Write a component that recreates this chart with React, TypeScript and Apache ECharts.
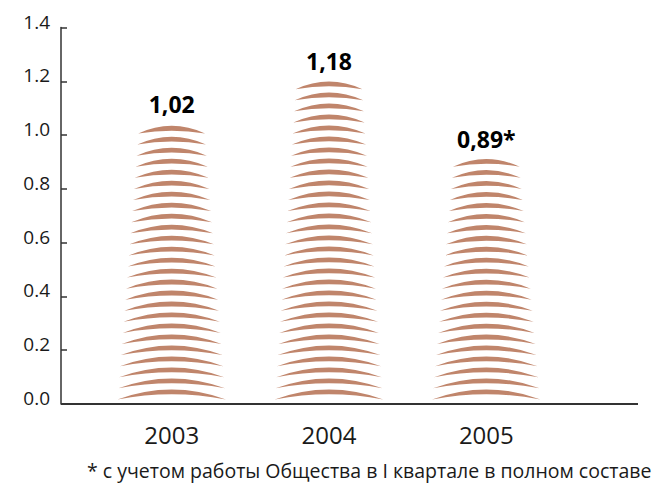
import React, { useEffect, useRef } from "react";
import * as echarts from "echarts";

const categories = ["2003", "2004", "2005"];
const values = [1.02, 1.18, 0.89];
const valueLabels = ["1,02", "1,18", "0,89*"];
const yTicks = [0, 0.2, 0.4, 0.6, 0.8, 1.0, 1.2, 1.4];
const footnote = "* с учетом работы Общества в I квартале в полном составе";

const ARC_COLOR = "#c0856b";
const ARC_STEP = 0.0412;
const ARC_BASE = 0.017;
const FONT = "'Open Sans', 'DejaVu Sans', sans-serif";

export default function App() {
  const ref = useRef<HTMLDivElement>(null);
  useEffect(() => {
    if (!ref.current) return;
    const chart = echarts.init(ref.current, null, { renderer: "svg" });
    const option: any = {
      animation: false,
      backgroundColor: "#ffffff",
      grid: { left: 93, right: 91, top: 27.5, bottom: 86 },
      xAxis: {
        type: "category",
        data: categories,
        boundaryGap: true,
        axisLine: { show: false },
        axisTick: { show: false },
        axisLabel: { color: "#1a1a1a", fontSize: 24, fontFamily: FONT, margin: 18 },
      },
      yAxis: {
        type: "value",
        min: yTicks[0],
        max: yTicks[yTicks.length - 1],
        interval: 0.2,
        offset: 32,
        axisLine: { show: true, lineStyle: { color: "#333", width: 1.5 } },
        axisTick: { show: true, inside: true, length: 6, lineStyle: { color: "#333", width: 1.5 } },
        splitLine: { show: false },
        axisLabel: {
          color: "#1a1a1a",
          fontSize: 19,
          fontFamily: FONT,
          margin: 11,
          verticalAlign: "bottom",
          lineHeight: 12,
          formatter: (v: number) => v.toFixed(1),
        },
      },
      graphic: [
        {
          type: "line",
          shape: { x1: 61, y1: 404, x2: 638, y2: 404 },
          style: { stroke: "#333", lineWidth: 2 },
          z: 10,
        },
        {
          type: "text",
          x: 87,
          y: 470,
          style: {
            text: footnote,
            fill: "#1a1a1a",
            fontSize: 19.5,
            fontFamily: FONT,
            verticalAlign: "middle",
            align: "left",
          },
        },
      ],
      series: [
        {
          type: "custom",
          data: values.map((v, i) => [i, v]),
          renderItem: (params: any, api: any) => {
            const idx = api.value(0);
            const val = api.value(1);
            const base = api.coord([idx, 0]);
            const top = api.coord([idx, val]);
            const cx = base[0];
            const band = api.size([1, 0])[0];
            const stepPx = api.size([0, ARC_STEP])[1];
            const offPx = api.size([0, ARC_BASE])[1];
            const n = Math.floor((val - ARC_BASE) / ARC_STEP) + 1;
            const bottomW = band * 0.69;
            const topW = band * 0.425;
            const children: any[] = [];
            for (let k = 0; k < n; k++) {
              const e = base[1] - offPx - k * stepPx;
              const t = n > 1 ? k / (n - 1) : 0;
              const w = bottomW + (topW - bottomW) * t;
              const h = w / 2;
              const r = 4 + w * 0.055;
              const th = 4.8;
              const d = `M${cx - h},${e} Q${cx},${e - 2 * r} ${cx + h},${e} Q${cx},${e - 2 * (r - th)} ${cx - h},${e} Z`;
              children.push({
                type: "path",
                shape: { pathData: d },
                style: { fill: ARC_COLOR },
              });
            }
            children.push({
              type: "text",
              x: cx,
              y: top[1] - 26,
              style: {
                text: valueLabels[idx],
                fill: "#000",
                fontSize: 23,
                fontWeight: "bold",
                fontFamily: FONT,
                align: "center",
                verticalAlign: "middle",
              },
            });
            return { type: "group", children };
          },
        },
      ],
    };
    chart.setOption(option);
    return () => chart.dispose();
  }, []);
  return (
    <div
      ref={ref}
      style={{ position: "absolute", left: 0, top: 0, width: 656, height: 490 }}
    />
  );
}
